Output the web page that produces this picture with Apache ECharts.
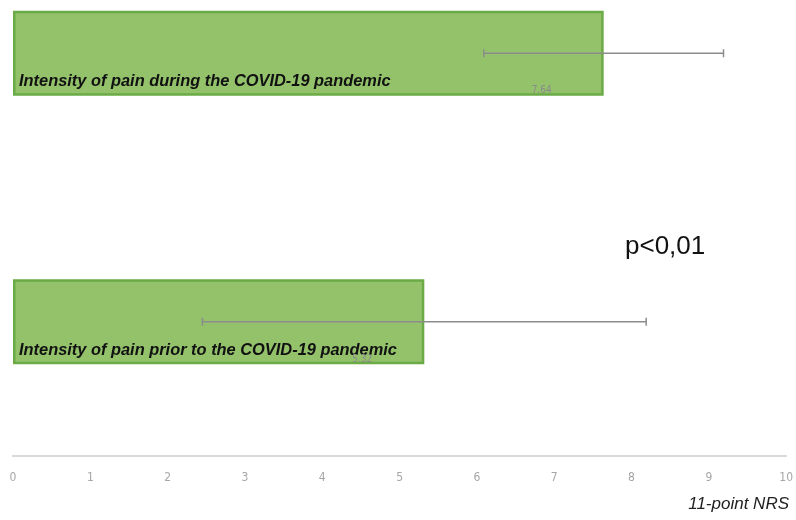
<!DOCTYPE html>
<html>
<head>
<meta charset="utf-8">
<script src="https://cdn.jsdelivr.net/npm/echarts@6/dist/echarts.min.js"></script>
<style>
  html, body { margin: 0; padding: 0; background: #fff; overflow: hidden; }
  #wrap { width: 796px; height: 520px; overflow: hidden; position: relative; }
  /* the plot area extends above the visible frame, so the canvas starts higher */
  #chart { width: 796px; height: 602px; position: absolute; left: 0; top: -81px; }
</style>
</head>
<body>
<div id="wrap"><div id="chart"></div></div>
<script>
// Mean pain intensity (11-point NRS) with standard deviation
const categories = [
  'Intensity of pain during the COVID-19 pandemic',
  'Intensity of pain prior to the COVID-19 pandemic'
];
const meanValues = [7.64, 5.32];
const sdValues = [1.55, 2.87];
const xTicks = [0, 1, 2, 3, 4, 5, 6, 7, 8, 9, 10];

const chart = echarts.init(document.getElementById('chart'));
const SHIFT = 81;

const errorData = categories.map((c, i) => [i, meanValues[i] - sdValues[i], meanValues[i] + sdValues[i]]);

chart.setOption({
  animation: false,
  grid: { left: 13, right: 4, top: 0, bottom: 65, containLabel: false },
  xAxis: {
    type: 'value',
    min: 0, max: 10, interval: 1,
    axisLine: { show: true, lineStyle: { color: '#d9d9d9', width: 2 } },
    axisTick: { show: false },
    splitLine: { show: false },
    axisLabel: {
      color: '#a6a6a6', fontSize: 12, margin: 16,
      fontFamily: '"DejaVu Sans Condensed"',
      formatter: v => xTicks.includes(v) ? String(v) : ''
    }
  },
  yAxis: {
    type: 'category',
    data: categories,
    inverse: true,
    axisLine: { show: false },
    axisTick: { show: false },
    axisLabel: { show: false }
  },
  series: [
    {
      type: 'bar',
      data: meanValues,
      barWidth: 85,
      itemStyle: { color: '#93c26b', borderColor: '#6aab45', borderWidth: 2.5 },
      label: {
        show: true,
        position: 'insideBottomLeft',
        distance: 6,
        formatter: p => categories[p.dataIndex],
        color: '#111',
        fontFamily: '"Liberation Sans"',
        fontStyle: 'italic',
        fontWeight: 'bold',
        fontSize: 16.4
      },
      z: 2
    },
    {
      type: 'bar',
      data: meanValues,
      barWidth: 85,
      barGap: '-100%',
      itemStyle: { color: 'rgba(0,0,0,0)' },
      label: {
        show: true,
        position: 'insideBottomRight',
        distance: 0,
        offset: [-52, 0],
        formatter: p => p.value.toFixed(2),
        color: '#8a8a8a',
        fontFamily: '"DejaVu Sans Condensed"',
        fontSize: 10
      },
      z: 3
    },
    {
      type: 'custom',
      data: errorData,
      z: 4,
      renderItem: (params, api) => {
        const y = api.value(0);
        const lo = api.coord([api.value(1), y]);
        const hi = api.coord([api.value(2), y]);
        const cap = 4;
        const style = { stroke: '#8c8c8c', lineWidth: 1.5 };
        return {
          type: 'group',
          children: [
            { type: 'line', shape: { x1: lo[0], y1: lo[1], x2: hi[0], y2: hi[1] }, style },
            { type: 'line', shape: { x1: lo[0], y1: lo[1] - cap, x2: lo[0], y2: lo[1] + cap }, style },
            { type: 'line', shape: { x1: hi[0], y1: hi[1] - cap, x2: hi[0], y2: hi[1] + cap }, style }
          ]
        };
      }
    }
  ],
  graphic: [
    {
      type: 'text', left: 625, top: 234 + SHIFT,
      style: { text: 'p<0,01', fill: '#111', font: '26px "Liberation Sans"' }
    },
    {
      type: 'text', right: 7, top: 496 + SHIFT,
      style: { text: '11-point NRS', fill: '#222', font: 'italic 17px "Liberation Sans"' }
    }
  ]
});
</script>
</body>
</html>
